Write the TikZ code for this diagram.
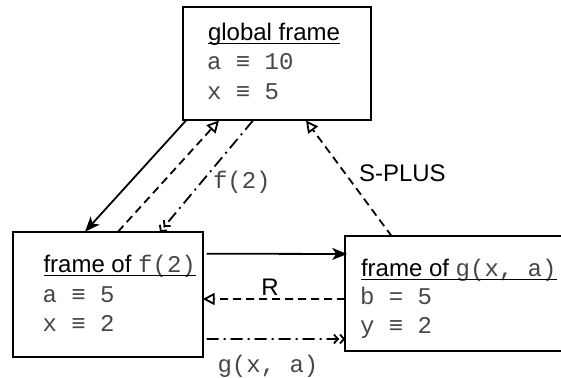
\documentclass[tikz,border=0pt]{standalone}
\usepackage{fontspec}
\setmainfont{Liberation Sans}
\setmonofont{Liberation Mono}
\usetikzlibrary{arrows.meta,calc}
\tikzset{
  box/.style={draw, line width=1pt, rectangle, inner sep=0pt, outer sep=0pt},
  txt/.style={inner sep=0pt, outer sep=0pt, anchor=base west, font=\fontsize{12}{14}\selectfont},
  mono/.style={txt, font=\fontsize{12}{14}\selectfont\ttfamily, text=black!72},
  lbl/.style={inner sep=0pt, outer sep=0pt, font=\fontsize{12}{14}\selectfont},
  conn/.style={line width=0.9pt},
  solidarr/.style={conn, -{Stealth[length=7.5pt,width=6pt,inset=2pt]}},
  dasharr/.style={conn, dash pattern=on 4pt off 2.5pt, -{Triangle[open,length=6pt,width=6pt]}},
  dotarr/.style={conn, dash pattern=on 6pt off 2.5pt on 1pt off 2.5pt, -{Straight Barb[length=2pt,width=4.5pt]Straight Barb[length=2pt,width=4.5pt]}},
  uline/.style={line width=0.6pt}
}
\begin{document}
\begin{tikzpicture}[x=0.5pt,y=-0.5pt]
\clip (0,0) rectangle (561,378);
\fill[white] (0,0) rectangle (561,378);
% boxes
\node[box, minimum width=94.25pt, minimum height=56.6pt] (glob) at (276.75,63.9) {};
\node[box, minimum width=95.1pt, minimum height=62.5pt] (f) at (107.6,294.2) {};
\node[box, minimum width=127.4pt, minimum height=57.25pt] (g) at (472.6,293.75) {};
% global frame texts
\node[txt] (gt) at (208,41) {global frame};
\draw[uline] ($(gt.base west)+(0,2.3)$) -- ($(gt.base east)+(0,2.3)$);
\node[mono] (ga) at (207,70) {a ≡ 10};
\node[mono] (gx) at (207,100) {x ≡ 5};
% f frame texts
\node[txt] (ft) at (43.5,273) {frame of \texttt{\color{black!72}f(2)}};
\draw[uline] ($(ft.base west)+(0,2.3)$) -- ($(ft.base east)+(0,2.3)$);
\node[mono] (fa) at (42.5,303) {a ≡ 5};
\node[mono] (fx) at (42.5,332) {x ≡ 2};
% g frame texts
\node[txt] (gft) at (361,277) {frame of \texttt{\color{black!72}g(x, a)}};
\draw[uline] ($(gft.base west)+(0,2.3)$) -- ($(gft.base east)+(0,2.3)$);
\node[mono] (gb) at (360,305) {b = 5};
\node[mono] (gy) at (360,334) {y ≡ 2};
% connectors
\draw[solidarr] ($(glob.south west)+(3.5,0)$) -- ($(f.north west)+(72.5,0)$);
\draw[dasharr] ($(f.north west)+(105.5,0)$) -- ($(glob.south west)+(36.5,0)$);
\draw[dotarr] ($(glob.south west)+(70.5,0)$) -- ($(f.north west)+(147.5,0)$);
\draw[solidarr] ($(f.north east)+(4,22)$) -- ($(g.north west)+(2,17.5)$);
\draw[dasharr] ($(g.north west)+(0,62.5)$) -- ($(f.north east)+(0,67.3)$);
\draw[dotarr] ($(f.north east)+(4,107.3)$) -- ($(g.north west)+(0,102.5)$);
\draw[dasharr] ($(g.north west)+(46.7,0)$) -- ($(glob.south west)+(123.5,0)$);
% labels
\node[lbl, font=\fontsize{12}{14}\selectfont\ttfamily, text=black!72, anchor=west] (lf) at (213,182) {f(2)};
\node[lbl] (lr) at (270,287) {R};
\node[lbl, anchor=west] (ls) at (359,173) {S-PLUS};
\node[lbl, font=\fontsize{12}{14}\selectfont\ttfamily, text=black!72] (lg) at (268,366) {g(x, a)};
\end{tikzpicture}
\end{document}
